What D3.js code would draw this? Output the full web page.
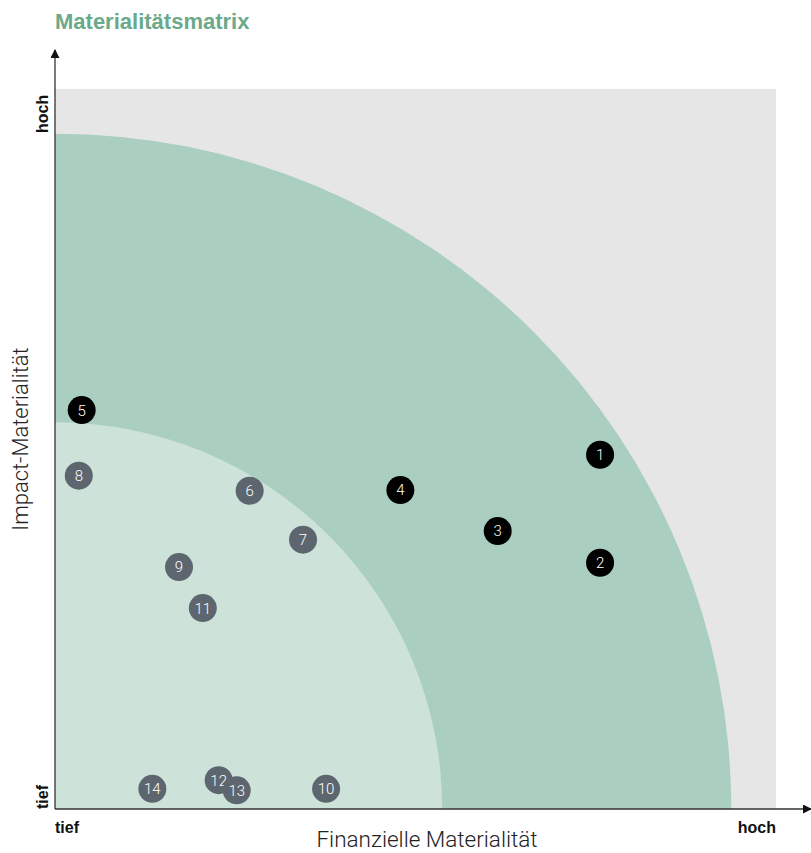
<!DOCTYPE html>
<html>
<head>
<meta charset="utf-8">
<script src="https://cdn.jsdelivr.net/npm/d3@7"></script>
<style>
  html, body { margin: 0; padding: 0; background: #fff; }
  svg { display: block; }
</style>
</head>
<body>
<svg id="chart" width="811" height="853"></svg>
<script>
// Topics: id, financial materiality (x), impact materiality (y), highlighted
const topicIds   = [1, 2, 3, 4, 5, 6, 7, 8, 9, 10, 11, 12, 13, 14];
const financial  = [75.6, 75.6, 61.4, 47.9, 3.7, 27.0, 34.4, 3.3, 17.2, 37.6, 20.5, 22.7, 25.2, 13.5];
const impact     = [49.2, 34.2, 38.6, 44.3, 55.4, 44.2, 37.4, 46.3, 33.6, 2.8, 27.9, 4.0, 2.6, 2.8];
const isMaterial = [true, true, true, true, true, false, false, false, false, false, false, false, false, false];

// Zone boundaries (quarter circles around the origin) in data units
const zoneRadii = [93.8, 53.7];
const zoneColors = ["#aacfc1", "#cde3da"];

const axisEndLabels = ["tief", "hoch"];
const xTitle = "Finanzielle Materialität";
const yTitle = "Impact-Materialität";
const chartTitle = "Materialitätsmatrix";

const svg = d3.select("#chart");
const plotLeft = 55, plotRight = 776, plotTop = 89, plotBottom = 809;

const x = d3.scaleLinear().domain([0, 100]).range([plotLeft, plotRight]);
const y = d3.scaleLinear().domain([0, 100]).range([plotBottom, plotTop]);

// Background field
svg.append("rect")
  .attr("x", x(0)).attr("y", y(100))
  .attr("width", x(100) - x(0)).attr("height", y(0) - y(100))
  .attr("fill", "#e6e6e6");

// Quarter-circle zones
const defs = svg.append("defs");
defs.append("clipPath").attr("id", "plotClip")
  .append("rect")
  .attr("x", x(0)).attr("y", y(100))
  .attr("width", x(100) - x(0)).attr("height", y(0) - y(100));

const zones = svg.append("g").attr("clip-path", "url(#plotClip)");
zoneRadii.forEach((r, i) => {
  zones.append("ellipse")
    .attr("cx", x(0)).attr("cy", y(0))
    .attr("rx", x(r) - x(0)).attr("ry", y(0) - y(r))
    .attr("fill", zoneColors[i]);
});

// Axes with arrowheads
defs.append("marker")
  .attr("id", "arrow").attr("viewBox", "0 0 10 10")
  .attr("refX", 9).attr("refY", 5)
  .attr("markerWidth", 9).attr("markerHeight", 9)
  .attr("markerUnits", "userSpaceOnUse")
  .attr("orient", "auto")
  .append("path").attr("d", "M0,0 L10,5 L0,10 Z").attr("fill", "#111");

svg.append("line")
  .attr("x1", x(0)).attr("y1", y(0)).attr("x2", x(0)).attr("y2", 50)
  .attr("stroke", "#333").attr("stroke-width", 1.3)
  .attr("marker-end", "url(#arrow)");
svg.append("line")
  .attr("x1", x(0)).attr("y1", y(0)).attr("x2", 811).attr("y2", y(0))
  .attr("stroke", "#333").attr("stroke-width", 1.3)
  .attr("marker-end", "url(#arrow)");

const boldFont = "Liberation Sans, Arial, sans-serif";
const lightFont = "Roboto, sans-serif";

// Title
svg.append("text")
  .attr("x", 55).attr("y", 29)
  .attr("font-family", boldFont)
  .attr("font-weight", 700).attr("font-size", 22)
  .attr("fill", "#6aa98a")
  .text(chartTitle);

// Axis end labels
svg.append("text").attr("x", x(0)).attr("y", 833)
  .attr("font-family", boldFont).attr("font-weight", 700).attr("font-size", 16)
  .attr("fill", "#111").text(axisEndLabels[0]);
svg.append("text").attr("x", x(100)).attr("y", 833)
  .attr("text-anchor", "end")
  .attr("font-family", boldFont).attr("font-weight", 700).attr("font-size", 16)
  .attr("fill", "#111").text(axisEndLabels[1]);
svg.append("text")
  .attr("transform", `translate(48,${y(0)}) rotate(-90)`)
  .attr("text-anchor", "start")
  .attr("font-family", boldFont).attr("font-weight", 700).attr("font-size", 16)
  .attr("fill", "#111").text(axisEndLabels[0]);
svg.append("text")
  .attr("transform", `translate(48,${y(100) + 44}) rotate(-90)`)
  .attr("text-anchor", "start")
  .attr("font-family", boldFont).attr("font-weight", 700).attr("font-size", 16)
  .attr("fill", "#111").text(axisEndLabels[1]);

// Axis titles
svg.append("text")
  .attr("x", 427).attr("y", 847)
  .attr("text-anchor", "middle")
  .attr("font-family", lightFont).attr("font-weight", 300).attr("font-size", 22.5)
  .attr("fill", "#222").text(xTitle);
svg.append("text")
  .attr("transform", `translate(28,439) rotate(-90)`)
  .attr("text-anchor", "middle")
  .attr("font-family", lightFont).attr("font-weight", 300).attr("font-size", 22)
  .attr("fill", "#222").text(yTitle);

// Topic markers
const topics = topicIds.map((id, i) => ({
  id, fx: financial[i], iy: impact[i], material: isMaterial[i]
}));

const dots = svg.append("g").selectAll("g")
  .data(topics).join("g")
  .attr("transform", d => `translate(${x(d.fx)},${y(d.iy)})`);

dots.append("circle")
  .attr("r", 14)
  .attr("fill", d => d.material ? "#000000" : "#5d666f");

dots.append("text")
  .attr("text-anchor", "middle")
  .attr("dy", "0.36em")
  .attr("font-family", lightFont).attr("font-weight", 300).attr("font-size", 15)
  .attr("fill", "#fff")
  .text(d => d.id);
</script>
</body>
</html>
